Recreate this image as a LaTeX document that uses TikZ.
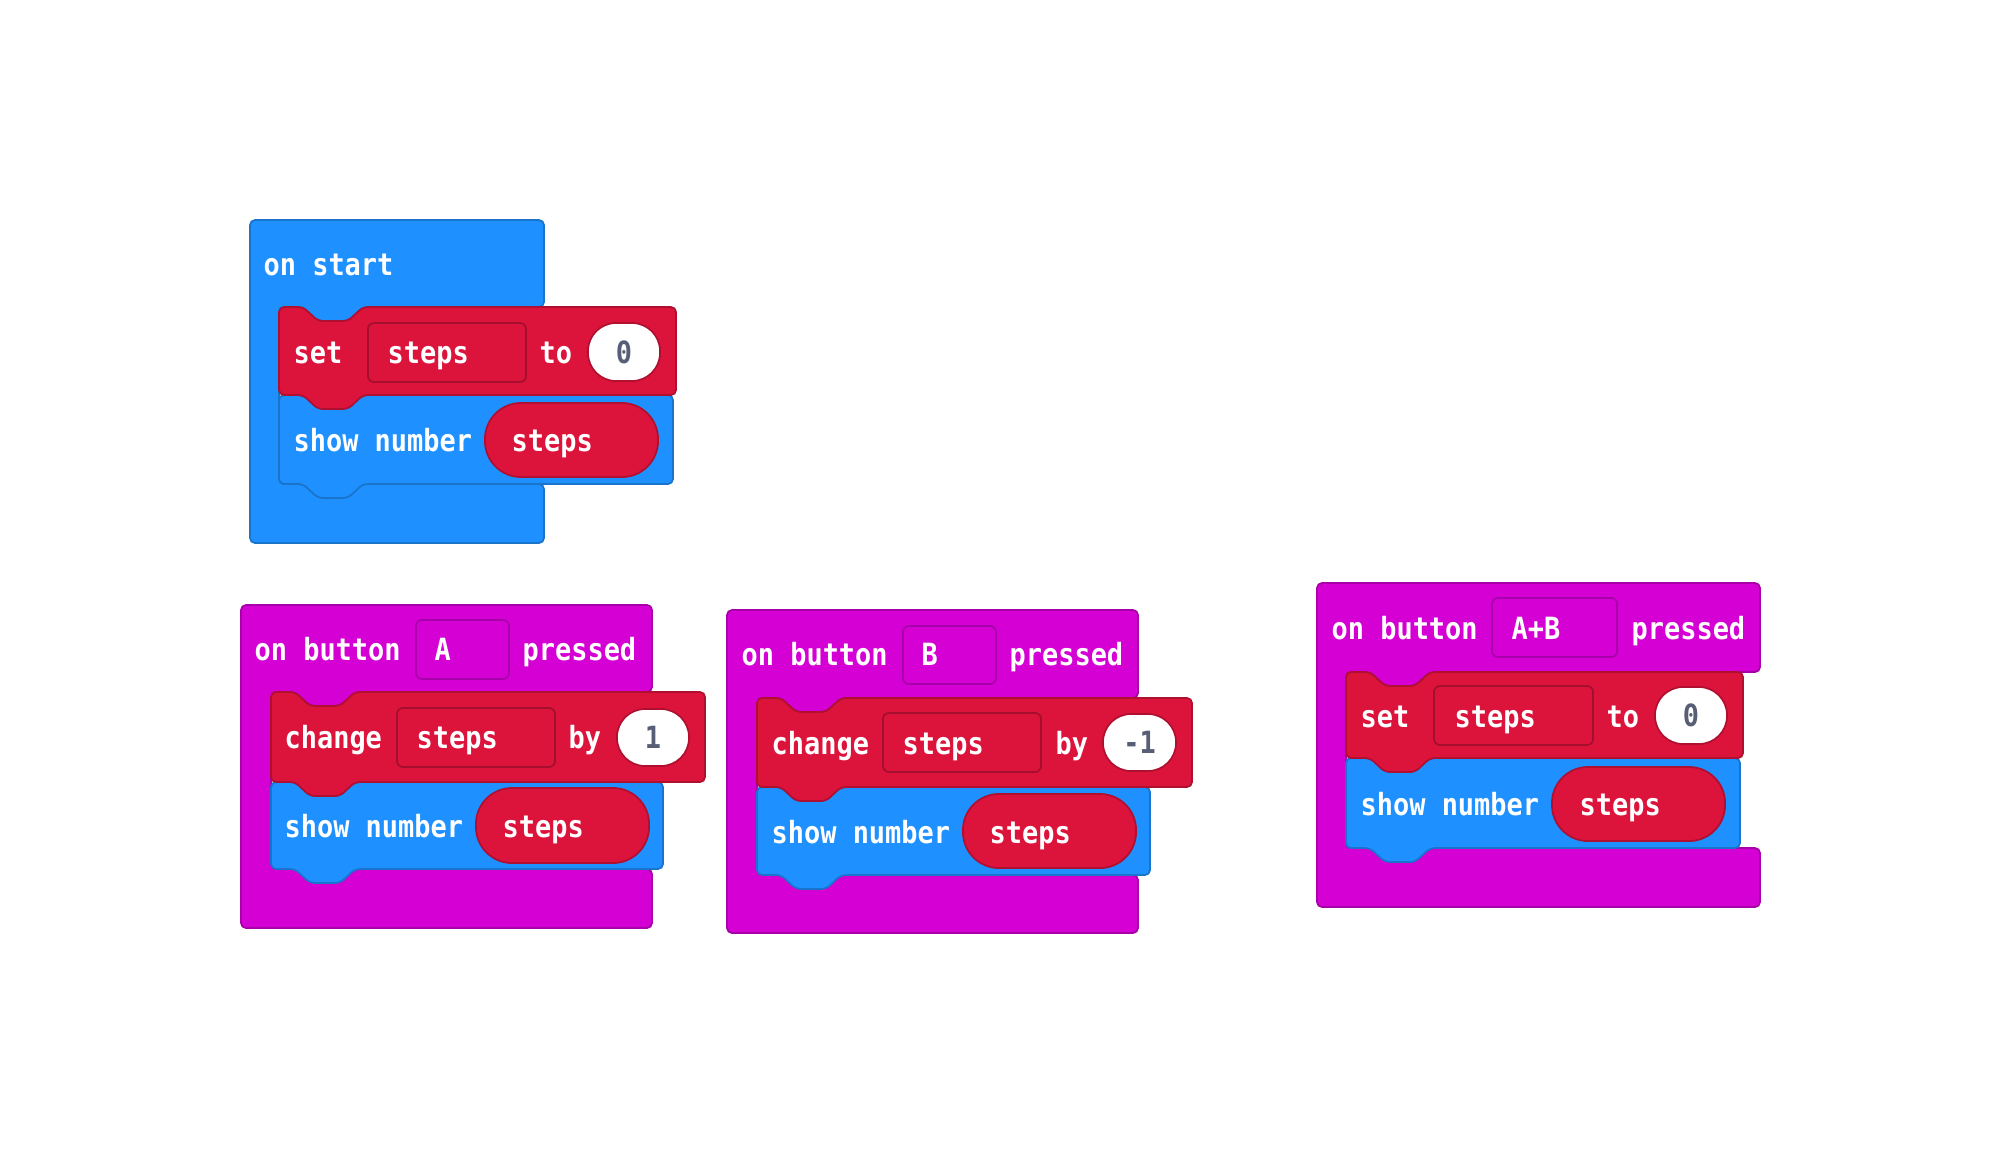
\documentclass[tikz,border=0pt]{standalone}
\usepackage{fontspec}
\setmonofont{DejaVu Sans Mono}[FakeStretch=0.88]

\definecolor{basicblue}{HTML}{1E90FF}
\definecolor{basicedge}{HTML}{1A74CC}
\definecolor{varsred}{HTML}{DC143C}
\definecolor{varsedge}{HTML}{B01030}
\definecolor{varsfield}{HTML}{A50E2D}
\definecolor{inputpink}{HTML}{D400D4}
\definecolor{inputedge}{HTML}{A800A8}
\definecolor{numgray}{HTML}{575E75}

\tikzset{
	blockline/.style={line width=0.5pt, rounded corners=0.05cm},
	basic/.style={blockline, fill=basicblue, draw=basicedge},
	vars/.style={blockline, fill=varsred, draw=varsedge},
	input/.style={blockline, fill=inputpink, draw=inputedge},
	lbl/.style={text=white, font=\ttfamily\bfseries\fontsize{8.7}{10}\selectfont, inner sep=0pt, anchor=base west},
	num/.style={text=numgray, font=\ttfamily\bfseries\fontsize{8.7}{10}\selectfont, inner sep=0pt, anchor=center},
	varfield/.style={shape=rectangle, rounded corners=0.06cm, fill=varsred, draw=varsfield, line width=0.5pt, inner sep=0pt},
	btnfield/.style={shape=rectangle, rounded corners=0.06cm, fill=inputpink, draw=inputedge, line width=0.5pt, inner sep=0pt},
	numpill/.style={shape=rectangle, rounded corners=0.28cm, fill=white, draw=varsedge, line width=0.5pt, inner sep=0pt},
	varpill/.style={shape=rectangle, rounded corners=0.36cm, fill=varsred, draw=varsedge, line width=0.5pt, inner sep=0pt}
}

% statement: style, left, top, right, bottom
\newcommand{\stmtblock}[5]{%
	\draw[#1] (#2,#3) -- ({#2+24},#3) -- ({#2+39},{#3+14}) -- ({#2+69},{#3+14}) -- ({#2+84},#3) -- (#4,#3)
		-- (#4,#5) -- ({#2+84},#5) -- ({#2+69},{#5+14}) -- ({#2+39},{#5+14}) -- ({#2+24},#5) -- (#2,#5) -- cycle;}
% event: style, left, top, right, header bottom, arm, arm bottom, bottom
\newcommand{\eventblock}[8]{%
	\draw[#1] (#2,#3) -- (#4,#3) -- (#4,#5) -- ({#6+84},#5) -- ({#6+69},{#5+14}) -- ({#6+39},{#5+14}) -- ({#6+24},#5)
		-- (#6,#5) -- (#6,#7) -- (#4,#7) -- (#4,#8) -- (#2,#8) -- cycle;}

\begin{document}
\begin{tikzpicture}[x=0.01cm, y=-0.01cm]
			\fill[white] (0,0) rectangle (2000,1154);
			\useasboundingbox (0,0) rectangle (2000,1154);

			\eventblock{basic}{250}{220}{544}{307}{279}{484}{543}
			\stmtblock{basic}{279}{395}{673}{484}
			\node[varpill, minimum width=1.73cm, minimum height=0.74cm](N1) at (571.5,440){};
			\stmtblock{vars}{279}{307}{676}{395}
			\node[varfield, minimum width=1.58cm, minimum height=0.59cm](N2) at (447,352.5){};
			\node[numpill, minimum width=0.72cm, minimum height=0.58cm](N3) at (624,352){} node[num](N4) at (N3.center){0};
			\node[lbl](N5) at (263,275){on start};
			\node[lbl](N6) at (293,363){set};
			\node[lbl](N7) at (387,363){steps};
			\node[lbl](N8) at (539,363){to};
			\node[lbl](N9) at (293,451){show number};
			\node[lbl](N10) at (511,451){steps};

			\eventblock{input}{241}{605}{652}{692}{271}{869}{928}
			\node[btnfield, minimum width=0.93cm, minimum height=0.59cm](N11) at (462.5,649.5){};
			\stmtblock{basic}{271}{782}{663}{869}
			\node[varpill, minimum width=1.73cm, minimum height=0.75cm](N12) at (562.5,825.5){};
			\stmtblock{vars}{271}{692}{705}{782}
			\node[varfield, minimum width=1.58cm, minimum height=0.59cm](N13) at (476,737.5){};
			\node[numpill, minimum width=0.72cm, minimum height=0.57cm](N14) at (653,737.5){} node[num](N15) at (N14.center){1};
			\node[lbl](N16) at (254,660){on button};
			\node[lbl](N17) at (434,660){A};
			\node[lbl](N18) at (522,660){pressed};
			\node[lbl](N19) at (284,748){change};
			\node[lbl](N20) at (416,748){steps};
			\node[lbl](N21) at (568,748){by};
			\node[lbl](N22) at (284,837){show number};
			\node[lbl](N23) at (502,837){steps};

			\eventblock{input}{727}{610}{1138}{698}{757}{875}{933}
			\node[btnfield, minimum width=0.93cm, minimum height=0.58cm](N24) at (949.5,655){};
			\stmtblock{basic}{757}{787}{1150}{875}
			\node[varpill, minimum width=1.73cm, minimum height=0.74cm](N25) at (1049.5,831){};
			\stmtblock{vars}{757}{698}{1192}{787}
			\node[varfield, minimum width=1.58cm, minimum height=0.59cm](N26) at (962,742.5){};
			\node[numpill, minimum width=0.73cm, minimum height=0.57cm](N27) at (1139.5,742.5){} node[num](N28) at (N27.center){-1};
			\node[lbl](N29) at (741,665){on button};
			\node[lbl](N30) at (921,665){B};
			\node[lbl](N31) at (1009,665){pressed};
			\node[lbl](N32) at (771,754){change};
			\node[lbl](N33) at (902,754){steps};
			\node[lbl](N34) at (1055,754){by};
			\node[lbl](N35) at (771,843){show number};
			\node[lbl](N36) at (989,843){steps};

			\eventblock{input}{1317}{583}{1760}{672}{1346}{848}{907}
			\node[btnfield, minimum width=1.25cm, minimum height=0.59cm](N37) at (1554.5,627.5){};
			\stmtblock{basic}{1346}{758}{1740}{848}
			\node[varpill, minimum width=1.73cm, minimum height=0.74cm](N38) at (1638.5,804){};
			\stmtblock{vars}{1346}{672}{1743}{758}
			\node[varfield, minimum width=1.59cm, minimum height=0.59cm](N39) at (1513.5,715.5){};
			\node[numpill, minimum width=0.72cm, minimum height=0.57cm](N40) at (1691,715.5){} node[num](N41) at (N40.center){0};
			\node[lbl](N42) at (1331,639){on button};
			\node[lbl](N43) at (1511,639){A+B};
			\node[lbl](N44) at (1631,639){pressed};
			\node[lbl](N45) at (1360,727){set};
			\node[lbl](N46) at (1454,727){steps};
			\node[lbl](N47) at (1606,727){to};
			\node[lbl](N48) at (1360,815){show number};
			\node[lbl](N49) at (1579,815){steps};
		\end{tikzpicture}
\end{document}
